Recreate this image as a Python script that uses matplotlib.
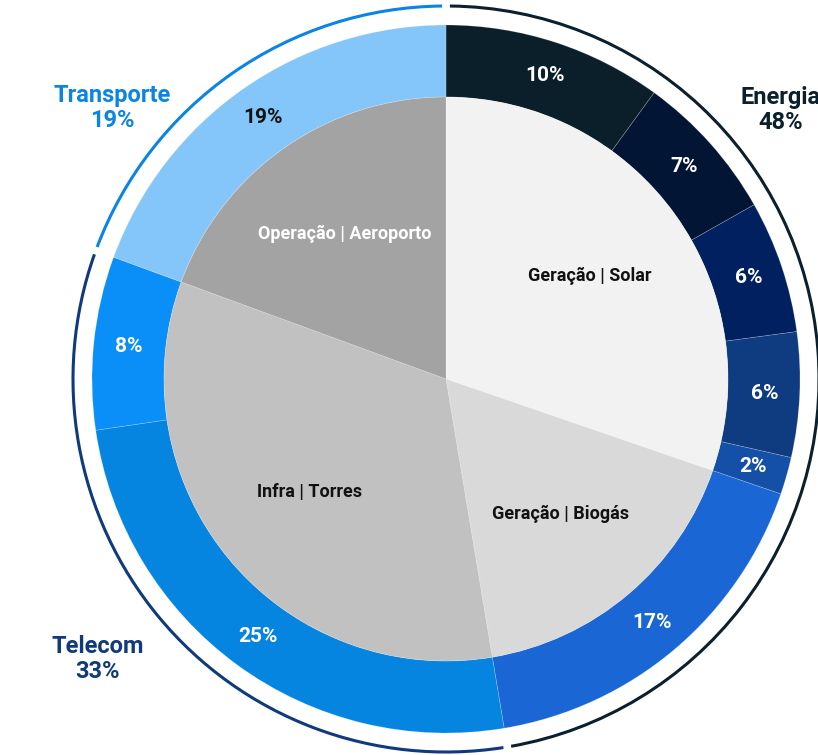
import numpy as np
import matplotlib.pyplot as plt
from matplotlib.patches import Arc

plt.rcParams['font.family'] = ['Roboto', 'DejaVu Sans']

# Dados
grupos = ["Energia", "Telecom", "Transporte"]
grupos_pct = ["48%", "33%", "19%"]
cores_grupos = ["#0b1f2c", "#0f3a7c", "#0a84e6"]

subcategorias = ["Geração | Solar", "Geração | Biogás", "Infra | Torres", "Operação | Aeroporto"]
sub_grupo = [0, 0, 1, 2]
cores_sub = ["#f2f2f2", "#d9d9d9", "#c1c1c1", "#a3a3a3"]
texto_sub = ["#111111", "#111111", "#111111", "white"]

itens = [10.0, 6.8, 6.05, 5.7, 1.7, 17.1, 25.3, 7.9, 19.4]
item_sub = [0, 0, 0, 0, 0, 1, 2, 2, 3]
cores_itens = ["#0b1f2a", "#021535", "#002060", "#0f3b80", "#1450a8",
               "#1a66d4", "#0585e0", "#0a8ef8", "#85c6fa"]
texto_itens = ["white"] * 8 + ["#111111"]

valores_sub = [sum(v for v, s in zip(itens, item_sub) if s == i) for i in range(len(subcategorias))]
valores_grupos = [sum(v for v, g in zip(valores_sub, sub_grupo) if g == i) for i in range(len(grupos))]

W, H = 818, 755
cx, cy = 446, H - 379
R_anel, R_pizza, R_arco = 354, 282, 373

fig = plt.figure(figsize=(W / 100, H / 100), dpi=100)
ax = fig.add_axes([0, 0, 1, 1])

borda = dict(edgecolor=(1, 1, 1, 0.25), linewidth=0.5)
fatias_itens, _ = ax.pie(itens, radius=R_anel, center=(cx, cy), startangle=90,
                         counterclock=False, colors=cores_itens,
                         wedgeprops=dict(width=R_anel - R_pizza, **borda))
fatias_sub, _ = ax.pie(valores_sub, radius=R_pizza, center=(cx, cy), startangle=90,
                       counterclock=False, colors=cores_sub, wedgeprops=borda)

def pos(w, r):
    a = np.deg2rad((w.theta1 + w.theta2) / 2)
    return cx + r * np.cos(a), cy + r * np.sin(a)

for w, v, c in zip(fatias_itens, itens, texto_itens):
    x, y = pos(w, 319)
    ax.text(x, y, f"{v:.0f}%", ha="center", va="center", color=c,
            fontsize=15, fontweight="bold")

for w, t, c in zip(fatias_sub, subcategorias, texto_sub):
    x, y = pos(w, 177)
    ax.text(x, y, t, ha="center", va="center", color=c,
            fontsize=13, fontweight="bold")

# arcos externos dos grupos
total = sum(valores_grupos)
ini = 0
for v, cor in zip(valores_grupos, cores_grupos):
    fim = ini + v / total
    ax.add_patch(Arc((cx, cy), 2 * R_arco, 2 * R_arco,
                     theta1=90 - 360 * fim + 0.6, theta2=90 - 360 * ini - 0.6,
                     color=cor, linewidth=2.2))
    ini = fim

pos_grupos = [(781, 110), (98, 659), (112, 108)]
for (x, y), g, p, cor in zip(pos_grupos, grupos, grupos_pct, cores_grupos):
    ax.text(x, H - y, f"{g}\n{p}", ha="center", va="center", color=cor,
            fontsize=17, fontweight="bold", linespacing=1.15)

ax.set_xlim(0, W)
ax.set_ylim(0, H)
ax.set_aspect("auto")
ax.axis("off")

fig.savefig("out.png", dpi=100)
